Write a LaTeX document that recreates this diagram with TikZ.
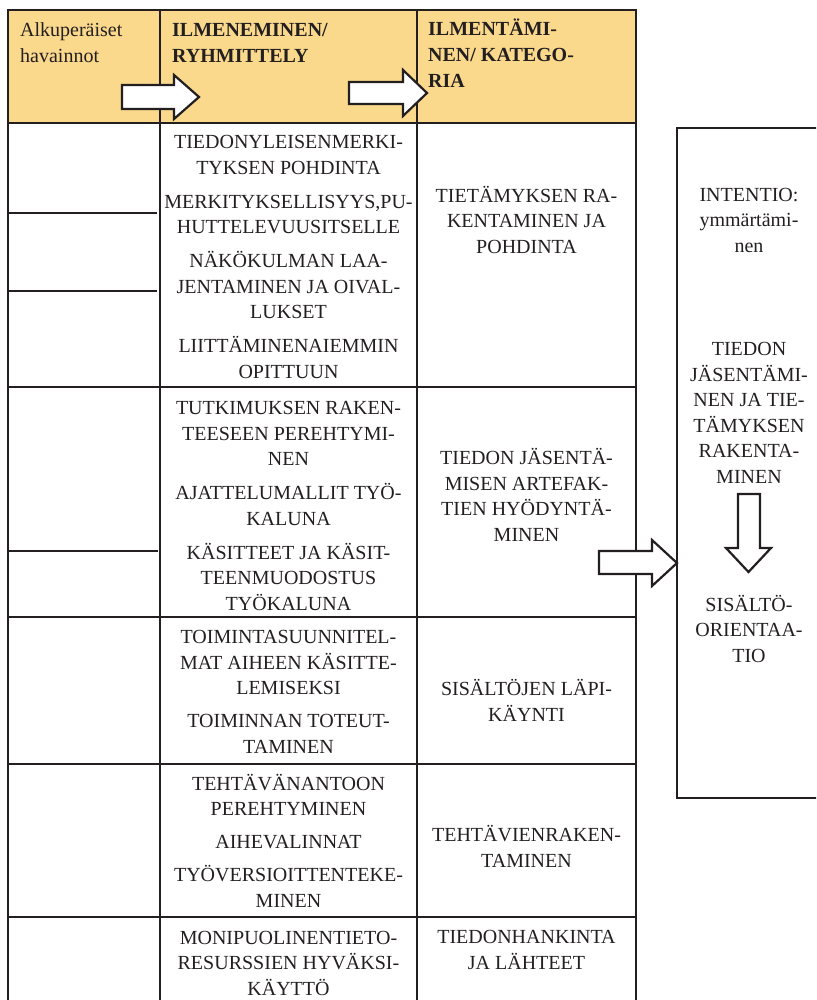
\documentclass[tikz,border=0pt]{standalone}
\usepackage{fontspec}
\setmainfont{Liberation Serif}
\definecolor{headfill}{RGB}{250,217,140}
\definecolor{ink}{RGB}{35,31,32}
\begin{document}
\begin{tikzpicture}[x=1pt,y=-1pt,
  grid/.style={draw=ink, line width=2.8pt, line cap=rect, line join=miter},
  blockarrow/.style={draw=ink, fill=white, line width=2.2pt, line join=miter},
  % multi-line nodes: the base anchor sits on the last line
  cell/.style={font=\fontsize{20}{25.5}\selectfont, text=ink, align=center, inner sep=0pt, anchor=base},
  head/.style={font=\fontsize{20}{26.5}\selectfont, text=ink, align=left, inner sep=0pt, anchor=base west}]
\useasboundingbox (0,0) rectangle (816,1000);
\clip (0,0) rectangle (816,1000);

% header band
\fill[headfill] (8,10) rectangle (636,123);

% table grid
\draw[grid] (8,1010) -- (8,10) -- (636,10) -- (636,1010);
\draw[grid] (160,10) -- (160,1010);
\draw[grid] (417,10) -- (417,1010);
\foreach \yy in {123,387,617,764,917} \draw[grid] (8,\yy) -- (636,\yy);
% short rules in the first column
\draw[grid] (8,213) -- (156,213);
\draw[grid] (8,291) -- (156,291);
\draw[grid] (8,551) -- (157,551);

% side box
\draw[grid] (830,128) -- (677,128) -- (677,798) -- (830,798);

% block arrows
\draw[blockarrow] (122,85) -- (174,85) -- (174,75) -- (199,97) -- (174,119) -- (174,109) -- (122,109) -- cycle;
\draw[blockarrow] (349,82) -- (403,82) -- (403,70) -- (427,93) -- (403,116) -- (403,104) -- (349,104) -- cycle;
\draw[blockarrow] (599,551) -- (652,551) -- (652,540) -- (677,563) -- (652,586) -- (652,574) -- (599,574) -- cycle;
\draw[blockarrow] (738,494) -- (760,494) -- (760,548) -- (771,548) -- (748.5,572) -- (726,548) -- (738,548) -- cycle;

% header texts
\node[head] (h1) at (20,63) {Alkuperäiset\\havainnot};
\node[head, font=\fontsize{20}{26.5}\selectfont\bfseries] (h2) at (172,63) {ILMENEMINEN/\\RYHMITTELY};
\node[head, font=\fontsize{20}{26}\selectfont\bfseries] (h3) at (428,88) {ILMENTÄMI-\\NEN/ KATEGO-\\RIA};

% second column
\node[cell] (g1) at (288.5,378) {TIEDONYLEISENMERKI-\\TYKSEN POHDINTA\\[8.5pt]MERKITYKSELLISYYS,PU-\\HUTTELEVUUSITSELLE\\[8.5pt]NÄKÖKULMAN LAA-\\JENTAMINEN JA OIVAL-\\LUKSET\\[8.5pt]LIITTÄMINENAIEMMIN\\OPITTUUN};
\node[cell] (g2) at (288.5,610) {TUTKIMUKSEN RAKEN-\\TEESEEN PEREHTYMI-\\NEN\\[8.5pt]AJATTELUMALLIT TYÖ-\\KALUNA\\[8.5pt]KÄSITTEET JA KÄSIT-\\TEENMUODOSTUS\\TYÖKALUNA};
\node[cell] (g3) at (288.5,753) {TOIMINTASUUNNITEL-\\MAT AIHEEN KÄSITTE-\\LEMISEKSI\\[7.5pt]TOIMINNAN TOTEUT-\\TAMINEN};
\node[cell] (g4) at (288.5,907) {TEHTÄVÄNANTOON\\PEREHTYMINEN\\[7.5pt]AIHEVALINNAT\\[7.5pt]TYÖVERSIOITTENTEKE-\\MINEN};
\node[cell] (g5) at (288.5,995) {MONIPUOLINENTIETO-\\RESURSSIEN HYVÄKSI-\\KÄYTTÖ};

% third column
\node[cell] (k1) at (526.5,253) {TIETÄMYKSEN RA-\\KENTAMINEN JA\\POHDINTA};
\node[cell] (k2) at (526.5,541) {TIEDON JÄSENTÄ-\\MISEN ARTEFAK-\\TIEN HYÖDYNTÄ-\\MINEN};
\node[cell] (k3) at (526.5,721) {SISÄLTÖJEN LÄPI-\\KÄYNTI};
\node[cell] (k4) at (526.5,867) {TEHTÄVIENRAKEN-\\TAMINEN};
\node[cell] (k5) at (526.5,969) {TIEDONHANKINTA\\JA LÄHTEET};

% side box texts
\node[cell] (s1) at (749,252) {INTENTIO:\\ymmärtämi-\\nen};
\node[cell] (s2) at (749,483) {TIEDON\\JÄSENTÄMI-\\NEN JA TIE-\\TÄMYKSEN\\RAKENTA-\\MINEN};
\node[cell] (s3) at (749,662) {SISÄLTÖ-\\ORIENTAA-\\TIO};
\end{tikzpicture}
\end{document}
